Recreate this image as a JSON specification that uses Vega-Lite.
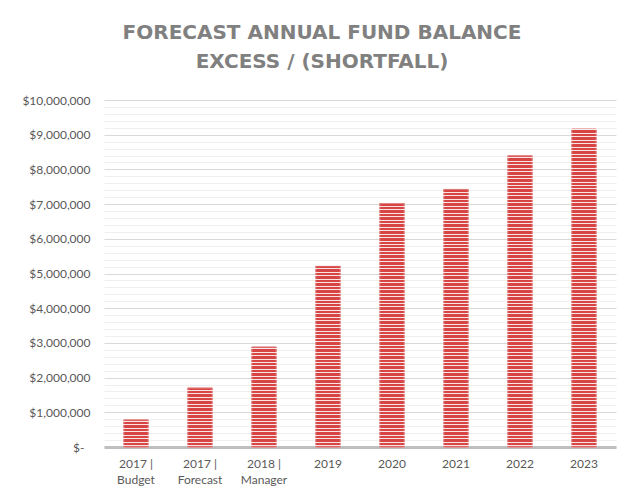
{
  "$schema": "https://vega.github.io/schema/vega-lite/v6.json",
  "autosize": "none",
  "width": 512,
  "height": 347,
  "padding": {"left": 104, "top": 100, "right": 14, "bottom": 53},
  "background": "white",
  "config": {"view": {"stroke": null}},
  "title": {
    "text": ["FORECAST ANNUAL FUND BALANCE", "EXCESS / (SHORTFALL)"],
    "font": "DejaVu Sans",
    "fontSize": 20,
    "fontWeight": "bold",
    "color": "#808080",
    "lineHeight": 29,
    "anchor": "middle",
    "offset": 22,
    "dx": -38
  },
  "data": {
    "values": [
      {"period": "2017 | Budget", "balance": 780000},
      {"period": "2017 | Forecast", "balance": 1700000},
      {"period": "2018 | Manager", "balance": 2880000},
      {"period": "2019", "balance": 5220000},
      {"period": "2020", "balance": 7020000},
      {"period": "2021", "balance": 7430000},
      {"period": "2022", "balance": 8390000},
      {"period": "2023", "balance": 9160000}
    ]
  },
  "encoding": {
    "x": {
      "field": "period",
      "type": "nominal",
      "sort": null,
      "scale": {"paddingInner": 0.62, "paddingOuter": 0.31},
      "axis": {
        "title": null,
        "labelAngle": 0,
        "ticks": false,
        "domainColor": "#bfbfbf",
        "domainWidth": 3,
        "labelFont": "Lato",
        "labelFontSize": 12,
        "labelColor": "#595959",
        "labelPadding": 11,
        "labelLineHeight": 16,
        "labelExpr": "indexof(datum.label, '|') > 0 ? [slice(datum.label, 0, 6), slice(datum.label, 7)] : datum.label"
      }
    },
    "y": {
      "field": "balance",
      "type": "quantitative",
      "scale": {"domain": [0, 10000000], "nice": false}
    }
  },
  "layer": [
    {
      "mark": {"type": "bar", "fill": "#d64444", "stroke": "#e48a8a", "strokeWidth": 1},
      "encoding": {
        "y": {
          "field": "balance",
          "type": "quantitative",
          "axis": {
            "title": null,
            "orient": "left",
            "tickCount": 50,
            "domain": false,
            "ticks": false,
            "labelOverlap": false,
            "labelFont": "Lato",
            "labelFontSize": 12,
            "labelColor": "#595959",
            "labelPadding": {"condition": {"test": "datum.value == 0", "value": 20}, "value": 14},
            "labelExpr": "datum.value % 1000000 == 0 ? (datum.value == 0 ? '$-' : '$' + format(datum.value, ',')) : ''",
            "gridColor": {"condition": {"test": "datum.value % 1000000 == 0", "value": "#d9d9d9"}, "value": "#efefef"},
            "gridWidth": 1
          }
        }
      }
    },
    {
      "mark": {"type": "bar", "fill": "#d64444", "stroke": "#e48a8a", "strokeWidth": 1},
      "encoding": {
        "y": {
          "field": "balance",
          "type": "quantitative",
          "axis": {
            "title": null,
            "orient": "right",
            "domain": false,
            "ticks": false,
            "labels": false,
            "grid": true,
            "gridColor": "white",
            "gridOpacity": 0.85,
            "gridWidth": 1.1,
            "zindex": 1,
            "values": [50000,150000,250000,350000,450000,550000,650000,750000,850000,950000,1050000,1150000,1250000,1350000,1450000,1550000,1650000,1750000,1850000,1950000,2050000,2150000,2250000,2350000,2450000,2550000,2650000,2750000,2850000,2950000,3050000,3150000,3250000,3350000,3450000,3550000,3650000,3750000,3850000,3950000,4050000,4150000,4250000,4350000,4450000,4550000,4650000,4750000,4850000,4950000,5050000,5150000,5250000,5350000,5450000,5550000,5650000,5750000,5850000,5950000,6050000,6150000,6250000,6350000,6450000,6550000,6650000,6750000,6850000,6950000,7050000,7150000,7250000,7350000,7450000,7550000,7650000,7750000,7850000,7950000,8050000,8150000,8250000,8350000,8450000,8550000,8650000,8750000,8850000,8950000,9050000,9150000,9250000]
          }
        }
      }
    }
  ],
  "resolve": {"axis": {"y": "independent"}}
}
